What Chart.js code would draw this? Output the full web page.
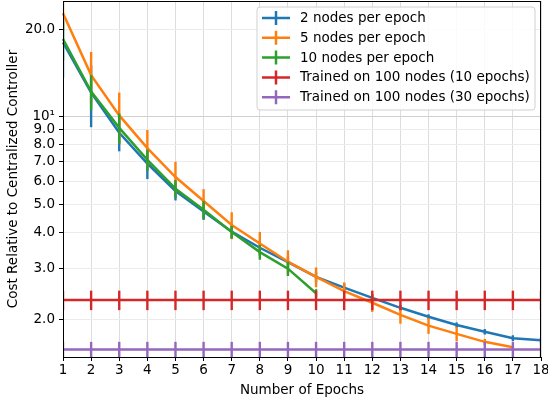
<!DOCTYPE html>
<html>
<head>
<meta charset="utf-8">
<script src="https://cdn.jsdelivr.net/npm/chart.js"></script>
<style>
  html, body { margin: 0; padding: 0; background: #fff; }
  #wrap { width: 548px; height: 402px; }
</style>
</head>
<body>
<div id="wrap"><canvas id="myChart" width="548" height="402"></canvas></div>
<script>
// values
const epochs = [1,2,3,4,5,6,7,8,9,10,11,12,13,14,15,16,17,18];

const twoNodes    = [18.0,12.1,8.8,6.9,5.55,4.72,4.02,3.54,3.16,2.81,2.58,2.38,2.20,2.05,1.92,1.82,1.73,1.70];
const twoNodesErr = [4.4,2.9,1.2,0.8,0.4,0.3,0.22,0.18,0.15,0.12,0.09,0.06,0.05,0.04,0.04,0.04,0.04,0.04];

const fiveNodes    = [22.7,13.9,10.1,7.8,6.2,5.13,4.24,3.66,3.17,2.81,2.51,2.29,2.08,1.91,1.79,1.68,1.61];
const fiveNodesErr = [3.0,2.8,2.0,1.2,0.8,0.5,0.45,0.35,0.3,0.22,0.18,0.16,0.14,0.12,0.1,0.04,0.02];

const tenNodes    = [18.5,12.2,9.15,7.1,5.65,4.78,4.01,3.42,3.0,2.47];
const tenNodesErr = [2.9,1.7,1.1,0.6,0.4,0.35,0.2,0.2,0.17,0.08];

const trained10    = [2.34,2.34,2.34,2.34,2.34,2.34,2.34,2.34,2.34,2.34,2.34,2.34,2.34,2.34,2.34,2.34,2.34,2.34];
const trained10Err = [0.18,0.18,0.18,0.18,0.18,0.18,0.18,0.18,0.18,0.18,0.18,0.18,0.18,0.18,0.18,0.18,0.18,0.18];
const trained30    = [1.58,1.58,1.58,1.58,1.58,1.58,1.58,1.58,1.58,1.58,1.58,1.58,1.58,1.58,1.58,1.58,1.58,1.58];
const trained30Err = [0.1,0.1,0.1,0.1,0.1,0.1,0.1,0.1,0.1,0.1,0.1,0.1,0.1,0.1,0.1,0.1,0.1,0.1];

const yTicks      = [2,3,4,5,6,7,8,9,10,20];
const yTickLabels = ['2.0','3.0','4.0','5.0','6.0','7.0','8.0','9.0','10\u00b9','20.0'];

const seriesNames  = ['2 nodes per epoch','5 nodes per epoch','10 nodes per epoch',
                      'Trained on 100 nodes (10 epochs)','Trained on 100 nodes (30 epochs)'];
const seriesColors = ['#1f77b4','#ff7f0e','#2ca02c','#d62728','#9467bd'];

Chart.defaults.font.family = 'DejaVu Sans';
Chart.defaults.font.size = 13.5;
Chart.defaults.color = '#000';

function line(i, data, errs) {
  return {
    label: seriesNames[i],
    data: data,
    errors: errs,
    borderColor: seriesColors[i],
    backgroundColor: seriesColors[i],
    borderWidth: 2.5,
    pointRadius: 0,
    tension: 0,
    fill: false,
    order: 4 - i
  };
}

// vertical error bars, drawn right after each line
const errorBars = {
  id: 'errorBars',
  afterDatasetDraw(chart, args) {
    const ds = chart.data.datasets[args.index];
    const y = chart.scales.y;
    const a = chart.chartArea;
    const ctx = chart.ctx;
    ctx.save();
    ctx.beginPath();
    ctx.rect(a.left, a.top, a.right - a.left, a.bottom - a.top);
    ctx.clip();
    ctx.strokeStyle = ds.borderColor;
    ctx.lineWidth = 2.4;
    args.meta.data.forEach((pt, i) => {
      const v = ds.data[i], e = ds.errors[i];
      ctx.beginPath();
      ctx.moveTo(pt.x, y.getPixelForValue(v - e));
      ctx.lineTo(pt.x, y.getPixelForValue(v + e));
      ctx.stroke();
    });
    ctx.restore();
  }
};

// frame + legend box like matplotlib
const frameAndLegend = {
  id: 'frameAndLegend',
  afterDraw(chart) {
    const ctx = chart.ctx;
    const a = chart.chartArea;
    ctx.save();
    ctx.strokeStyle = '#000';
    ctx.lineWidth = 1;
    ctx.strokeRect(a.left + 0.5, a.top + 0.5, a.right - a.left - 1, a.bottom - a.top);

    const bx = 257, by = 7, bw = 278, bh = 103, r = 3;
    ctx.beginPath();
    ctx.moveTo(bx + r, by);
    ctx.arcTo(bx + bw, by, bx + bw, by + bh, r);
    ctx.arcTo(bx + bw, by + bh, bx, by + bh, r);
    ctx.arcTo(bx, by + bh, bx, by, r);
    ctx.arcTo(bx, by, bx + bw, by, r);
    ctx.closePath();
    ctx.fillStyle = 'rgba(255,255,255,0.85)';
    ctx.fill();
    ctx.strokeStyle = '#d0d0d0';
    ctx.stroke();

    ctx.font = '13.5px "DejaVu Sans"';
    ctx.textBaseline = 'middle';
    ctx.fillStyle = '#000';
    seriesNames.forEach((name, i) => {
      const yy = 18 + i * 19.8;
      ctx.strokeStyle = seriesColors[i];
      ctx.lineWidth = 2.5;
      ctx.beginPath();
      ctx.moveTo(262, yy); ctx.lineTo(290, yy);
      ctx.moveTo(276, yy - 7); ctx.lineTo(276, yy + 7);
      ctx.stroke();
      ctx.fillText(name, 300, yy + 0.5);
    });
    ctx.restore();
  }
};

const config = {
  type: 'line',
  data: {
    labels: epochs,
    datasets: [
      line(0, twoNodes, twoNodesErr),
      line(1, fiveNodes, fiveNodesErr),
      line(2, tenNodes, tenNodesErr),
      line(3, trained10, trained10Err),
      line(4, trained30, trained30Err)
    ]
  },
  options: {
    responsive: false,
    animation: false,
    layout: { padding: { top: 1, right: 7, left: 0, bottom: 0 } },
    plugins: { legend: { display: false }, tooltip: { enabled: false } },
    scales: {
      x: {
        type: 'category',
        offset: false,
        grid: { color: '#dcdcdc', tickLength: 4, tickColor: '#000' },
        border: { color: '#000' },
        ticks: { padding: 1, maxRotation: 0, autoSkip: false },
        title: { display: true, text: 'Number of Epochs', padding: { top: 0, bottom: 3 } },
        afterFit(s) { s.height = 45; s.paddingLeft = 0; s.paddingRight = 0; }
      },
      y: {
        type: 'logarithmic',
        min: 1.49,
        max: 25,
        grid: {
          color: c => (c.tick && c.tick.value === 10) ? '#d0d0d0' : '#ececec',
          tickLength: 4,
          tickColor: '#000'
        },
        border: { color: '#000' },
        ticks: {
          autoSkip: false,
          padding: 4,
          callback: (v) => {
            const k = yTicks.indexOf(v);
            return k >= 0 ? yTickLabels[k] : '';
          }
        },
        afterBuildTicks(s) { s.ticks = yTicks.map(v => ({ value: v })); },
        title: { display: true, text: 'Cost Relative to Centralized Controller', padding: { top: 5, bottom: 0 } },
        afterFit(s) { s.width = 63; s.paddingTop = 0; s.paddingBottom = 0; }
      }
    }
  },
  plugins: [errorBars, frameAndLegend]
};

var myChart = new Chart(document.getElementById('myChart'), config);
</script>
</body>
</html>
